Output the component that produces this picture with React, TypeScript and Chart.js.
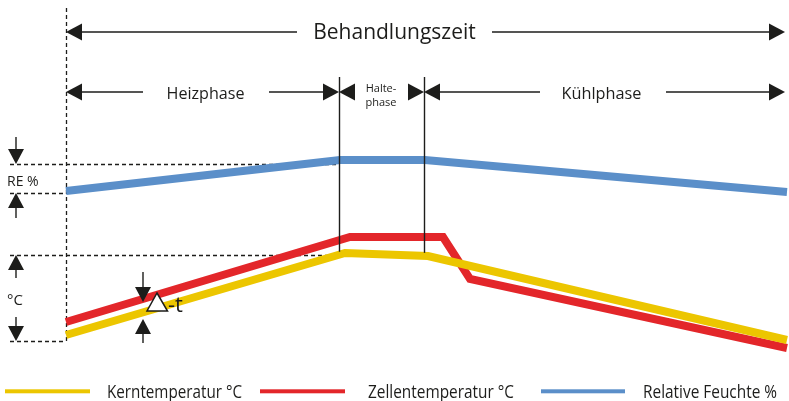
import React, { useEffect, useRef } from "react";
import { Chart, registerables } from "chart.js";

Chart.register(...registerables);

// ---- data (time in relative units, values in relative units) ----
const seriesLabels = ["Kerntemperatur °C", "Zellentemperatur °C", "Relative Feuchte %"];
const seriesColors = ["#ecc600", "#e3262a", "#5b8fc9"];

const kernTime = [0, 279, 362, 721];
const kernValue = [66, 148, 145, 61];

const zellenTime = [0, 284, 377, 404, 721];
const zellenValue = [79, 164, 164, 122, 53];

const feuchteTime = [0, 274, 359, 721];
const feuchteValue = [210, 241, 241, 209];

const phaseBounds = [0, 273, 358, 721];
const phaseLabels = ["Heizphase", "Halte-", "phase", "Kühlphase"];
const totalLabel = "Behandlungszeit";
const reLabel = "RE %";
const tempLabel = "°C";
const deltaLabel = "-t";
const reRange = [208, 237];
const tempRange = [60, 146];

const INK = "#1d1d1b";
const FONT = "'Open Sans', 'Noto Sans', sans-serif";

function interp(ts: number[], vs: number[], t: number) {
  for (let i = 0; i < ts.length - 1; i++) {
    if (t >= ts[i] && t <= ts[i + 1]) {
      const f = (t - ts[i]) / (ts[i + 1] - ts[i]);
      return vs[i] + f * (vs[i + 1] - vs[i]);
    }
  }
  return vs[vs.length - 1];
}

function toPoints(ts: number[], vs: number[]) {
  return ts.map((t, i) => ({ x: t, y: vs[i] }));
}

const annotations = {
  id: "annotations",
  beforeDatasetsDraw(chart: any) {
    const ctx = chart.ctx;
    const X = (t: number) => chart.scales.x.getPixelForValue(t);
    const Y = (v: number) => chart.scales.y.getPixelForValue(v);
    ctx.save();
    ctx.strokeStyle = INK;
    ctx.lineWidth = 1.3;
    ctx.setLineDash([4, 3]);
    const hline = (y: number, x1: number, x2: number) => {
      ctx.beginPath();
      ctx.moveTo(x1, Math.round(y) + 0.5);
      ctx.lineTo(x2, Math.round(y) + 0.5);
      ctx.stroke();
    };
    // vertical dotted start line
    ctx.beginPath();
    ctx.moveTo(Math.round(X(0)) + 0.5, 8);
    ctx.lineTo(Math.round(X(0)) + 0.5, Y(tempRange[0]));
    ctx.stroke();
    hline(Y(reRange[1]), 10, X(feuchteTime[1]));
    hline(Y(reRange[0]), 10, X(0));
    hline(Y(tempRange[1]), 10, X(phaseBounds[1]));
    hline(Y(tempRange[0]), 10, X(0));
    ctx.restore();
  },
  afterDatasetsDraw(chart: any) {
    const ctx = chart.ctx;
    const X = (t: number) => chart.scales.x.getPixelForValue(t);
    const Y = (v: number) => chart.scales.y.getPixelForValue(v);
    ctx.save();
    ctx.strokeStyle = INK;
    ctx.fillStyle = INK;
    ctx.lineWidth = 1.4;
    ctx.setLineDash([]);

    const line = (x1: number, y1: number, x2: number, y2: number) => {
      ctx.beginPath();
      ctx.moveTo(x1, y1);
      ctx.lineTo(x2, y2);
      ctx.stroke();
    };
    const headH = (tipX: number, y: number, dir: number, len = 16, half = 8.5) => {
      ctx.beginPath();
      ctx.moveTo(tipX, y);
      ctx.lineTo(tipX - dir * len, y - half);
      ctx.lineTo(tipX - dir * len, y + half);
      ctx.closePath();
      ctx.fill();
    };
    const headV = (x: number, tipY: number, dir: number, len = 15, half = 8) => {
      ctx.beginPath();
      ctx.moveTo(x, tipY);
      ctx.lineTo(x - half, tipY - dir * len);
      ctx.lineTo(x + half, tipY - dir * len);
      ctx.closePath();
      ctx.fill();
    };
    const text = (s: string, x: number, y: number, size: number, maxW: number, align = "center") => {
      ctx.font = `${size}px ${FONT}`;
      ctx.textAlign = align;
      ctx.textBaseline = "alphabetic";
      ctx.fillText(s, x, y, maxW);
    };

    const x0 = X(phaseBounds[0]);
    const x1 = X(phaseBounds[1]);
    const x2 = X(phaseBounds[2]);
    const x3 = X(phaseBounds[3]) - 2;

    // phase separators
    line(Math.round(x1) + 0.5, 77, Math.round(x1) + 0.5, Y(interp(kernTime, kernValue, phaseBounds[1])) - 3);
    line(Math.round(x2) + 0.5, 77, Math.round(x2) + 0.5, Y(interp(kernTime, kernValue, phaseBounds[2])) - 3);

    // Behandlungszeit
    const yTop = 32;
    line(x0 + 10, yTop, 297, yTop);
    headH(x0, yTop, -1);
    line(492, yTop, x3 - 10, yTop);
    headH(x3, yTop, 1);
    text(totalLabel, 394.5, 39, 21, 170);

    // phases row
    const yP = 92;
    line(x0 + 10, yP, 143, yP);
    headH(x0, yP, -1);
    line(269, yP, x1 - 10, yP);
    headH(x1, yP, 1);
    headH(x1, yP, -1);
    headH(x2, yP, 1);
    headH(x2, yP, -1);
    line(x2 + 10, yP, 540, yP);
    line(666, yP, x3 - 10, yP);
    headH(x3, yP, 1);
    text(phaseLabels[0], 205.5, 99, 17, 78);
    text(phaseLabels[1], 381, 92, 11, 33);
    text(phaseLabels[2], 381, 106, 11, 33);
    text(phaseLabels[3], 601.5, 99, 17, 80);

    // left range arrows
    const ax = 16;
    const reTop = Y(reRange[1]);
    const reBot = Y(reRange[0]);
    line(ax, 137, ax, reTop - 10);
    headV(ax, reTop, 1);
    line(ax, reBot + 10, ax, 218);
    headV(ax, reBot, -1);
    text(reLabel, 7, 186, 14, 32, "left");

    const tTop = Y(tempRange[1]);
    const tBot = Y(tempRange[0]);
    line(ax, tTop + 10, ax, 278);
    headV(ax, tTop, -1);
    line(ax, 317, ax, tBot - 10);
    headV(ax, tBot, 1);
    text(tempLabel, 7, 305, 15, 17, "left");

    // delta-t marker
    const dx = 143;
    line(dx, 272, dx, 292);
    headV(dx, 302, 1);
    line(dx, 328, dx, 343);
    headV(dx, 319, -1);
    ctx.beginPath();
    ctx.moveTo(157, 293);
    ctx.lineTo(167.5, 311);
    ctx.lineTo(147, 311);
    ctx.closePath();
    ctx.fillStyle = "#ffffff";
    ctx.fill();
    ctx.lineWidth = 1.5;
    ctx.stroke();
    ctx.fillStyle = INK;
    text(deltaLabel, 168, 311.5, 22, 24, "left");

    // legend
    const legendX = [[5, 90, 107, 135], [260, 345, 368, 146], [541, 625, 643, 134]];
    const yL = 391.3;
    chart.data.datasets.forEach((ds: any, i: number) => {
      const [a, b, tx, tw] = legendX[i];
      ctx.fillStyle = ds.borderColor;
      ctx.fillRect(a, yL - 2, b - a, 4);
      ctx.fillStyle = INK;
      text(ds.label, tx, 397.5, 18, tw, "left");
    });
    ctx.restore();
  },
};

export default function App() {
  const ref = useRef<HTMLCanvasElement | null>(null);
  useEffect(() => {
    if (!ref.current) return;
    const mk = (i: number, ts: number[], vs: number[]) => ({
      label: seriesLabels[i],
      data: toPoints(ts, vs),
      borderColor: seriesColors[i],
      backgroundColor: seriesColors[i],
      borderWidth: 8,
      pointRadius: 0,
      tension: 0,
      fill: false,
      borderJoinStyle: "miter" as const,
      borderCapStyle: "butt" as const,
    });
    const chart = new Chart(ref.current, {
      type: "line",
      data: {
        datasets: [
          mk(0, kernTime, kernValue),
          mk(1, zellenTime, zellenValue),
          mk(2, feuchteTime, feuchteValue),
        ],
      },
      options: {
        responsive: false,
        animation: false,
        devicePixelRatio: 1,
        layout: { padding: 0 },
        plugins: { legend: { display: false }, tooltip: { enabled: false } },
        scales: {
          x: { type: "linear", min: -66, max: 723, display: false },
          y: { type: "linear", min: 0, max: 401, display: false },
        },
        elements: { line: { clip: false } as any },
      },
      plugins: [annotations],
    });
    return () => chart.destroy();
  }, []);
  return (
    <div style={{ position: "absolute", left: 0, top: 0, width: 789, height: 401, background: "#fff" }}>
      <canvas ref={ref} width={789} height={401} />
    </div>
  );
}
